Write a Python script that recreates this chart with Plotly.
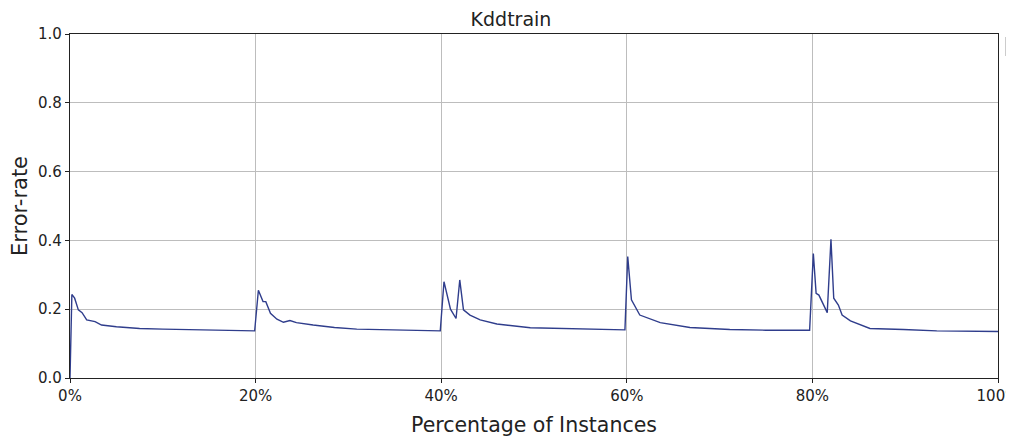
import plotly.graph_objects as go

pct = [0.0, 0.2, 0.5, 0.9, 1.3, 1.8, 2.7, 3.4, 5.0, 7.5, 10.0, 12.9, 16.0, 19.9,
       20.3, 20.8, 21.1, 21.6, 22.3, 23.0, 23.7, 24.4, 26.2, 28.5, 30.9, 34.0, 37.0, 39.9,
       40.3, 41.0, 41.6, 42.0, 42.4, 43.1, 44.2, 46.0, 49.6, 55.0, 59.8,
       60.1, 60.5, 61.4, 63.6, 66.8, 71.1, 75.0, 79.7,
       80.1, 80.4, 80.7, 81.6, 82.0, 82.3, 82.8, 83.2, 84.1, 85.5, 86.2, 89.8, 93.4, 100.0]
err = [0.0, 0.243, 0.232, 0.198, 0.190, 0.169, 0.164, 0.154, 0.149, 0.144, 0.142, 0.140, 0.138, 0.137,
       0.255, 0.222, 0.222, 0.188, 0.171, 0.162, 0.167, 0.161, 0.154, 0.147, 0.142, 0.140, 0.138, 0.137,
       0.280, 0.200, 0.173, 0.285, 0.198, 0.183, 0.169, 0.157, 0.146, 0.142, 0.140,
       0.353, 0.227, 0.183, 0.161, 0.147, 0.141, 0.139, 0.139,
       0.362, 0.246, 0.241, 0.190, 0.403, 0.232, 0.212, 0.183, 0.166, 0.151, 0.144, 0.141, 0.137, 0.135]

x_ticks = [0, 20, 40, 60, 80, 100]
x_labels = ["0%", "20%", "40%", "60%", "80%", "100%"]
y_ticks = [0.0, 0.2, 0.4, 0.6, 0.8, 1.0]

fig = go.Figure()
fig.add_trace(go.Scatter(x=pct, y=err, mode="lines", name="Kddtrain",
                         line=dict(color="#2f3d8c", width=1.4)))

tick_font = dict(family="DejaVu Sans", size=15, color="#222")
axis_common = dict(showline=True, linecolor="#222", linewidth=1.2, mirror=True,
                   ticks="outside", ticklen=4, tickcolor="#222",
                   showgrid=True, gridcolor="#bdbdbd", gridwidth=1, zeroline=False,
                   automargin=False)

fig.update_xaxes(range=[0, 100], tickvals=x_ticks, ticktext=x_labels,
                 ticklabeloverflow="allow", tickfont=tick_font,
                 title=dict(text="Percentage of Instances", font=dict(family="DejaVu Sans", size=20.5, color="#222"), standoff=13),
                 **axis_common)
fig.update_yaxes(range=[0, 1.0], tickvals=y_ticks, tickformat=".1f", tickfont=tick_font,
                 title=dict(text="Error-rate", font=dict(family="DejaVu Sans", size=21, color="#222"), standoff=6),
                 **axis_common)

fig.update_layout(
    width=1006, height=429,
    margin=dict(l=62, r=16, t=26, b=59),
    paper_bgcolor="white", plot_bgcolor="white",
    showlegend=False,
    title=dict(text="Kddtrain", x=0.5, xanchor="center", y=0.974, yanchor="middle",
               font=dict(family="DejaVu Sans", size=19, color="#222")),
    annotations=[dict(xref="paper", yref="paper", x=1.008, y=0.992, xanchor="left", yanchor="top",
                      text="&#8212;", showarrow=False,
                      font=dict(family="DejaVu Sans", size=10, color="#555"),
                      bordercolor="#cccccc", borderwidth=1, borderpad=3, bgcolor="white")],
)

fig.write_html("out.html")
